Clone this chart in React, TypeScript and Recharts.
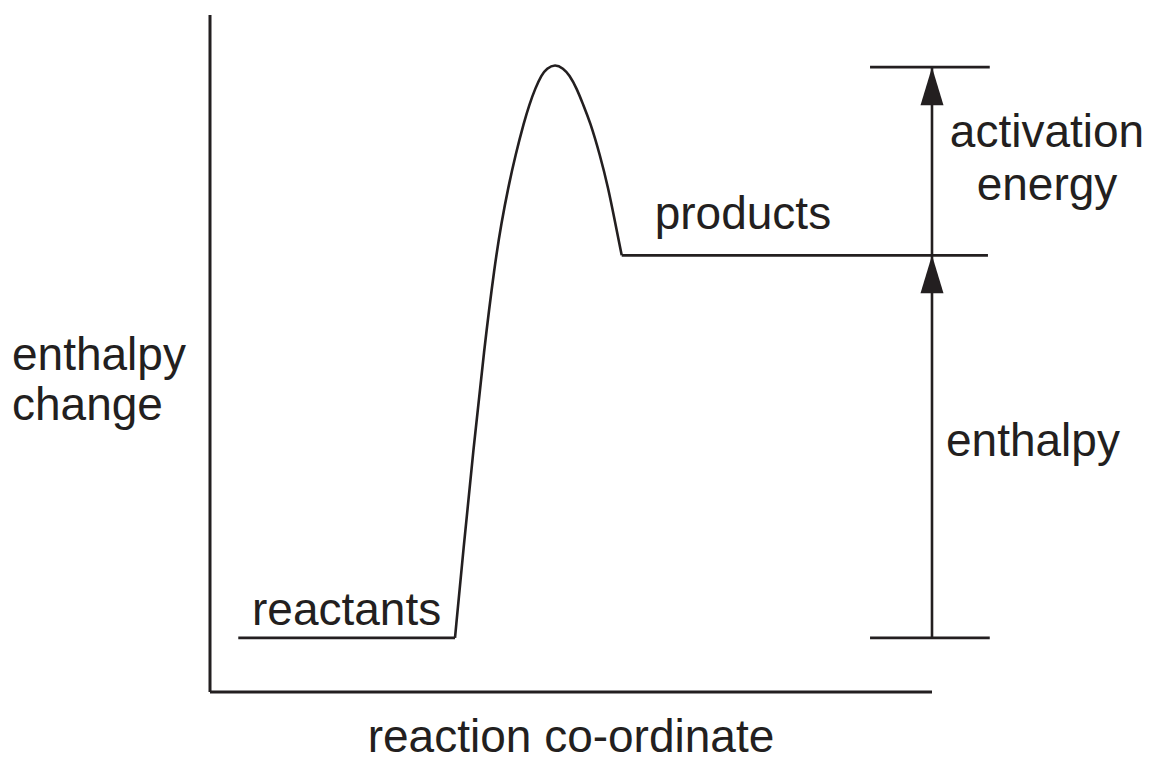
import React from "react";
import {
  ComposedChart,
  Line,
  Scatter,
  XAxis,
  YAxis,
  ReferenceLine,
} from "recharts";

// ---- data (reaction coordinate on x, enthalpy on y) ----
const curveX = [
  4.072, 4.211, 4.377, 4.555, 4.731, 4.846, 4.954, 5.077, 5.22, 5.305, 5.406, 5.509, 5.598,
  5.734,
  5.872, 5.972, 6.095, 6.204, 6.316, 6.482, 6.62, 6.731, 6.843,
];
const curveY = [
  8, 20.97, 35.75, 50.52, 63.07, 69.42, 74.4, 79.32, 84.19, 86.71, 89.17, 91.14, 92.13,
  92.75,
  92.13, 91.14, 89.17, 86.71, 84.24, 79.32, 74.4, 69.47, 64.5,
];

const reactantsLevel = 8;
const productsLevel = 64.5;
const transitionLevel = 92.3;

const reactantsX = [0.47, 4.072];
const productsX = [6.843, 12.93];
const markerX = [10.97, 12.96];
const arrowX = 12;

const xDomain = [0, 12];
const yDomain = [0, 100];

const xAxisTitle = "reaction co-ordinate";
const yAxisTitle = ["enthalpy", "change"];
const reactantsText = "reactants";
const productsText = "products";
const activationText = ["activation", "energy"];
const enthalpyText = "enthalpy";

const hump = curveX.map((x, i) => ({ x, y: curveY[i] }));
const arrowTips = [
  { x: arrowX, y: productsLevel },
  { x: arrowX, y: transitionLevel },
];

// ---- style ----
const INK = "#231f20";
const FONT = "'Liberation Sans', Arial, Helvetica, sans-serif";
const FS = 46;
const SW = 2.6;

const textStyle = { fontFamily: FONT, fontSize: FS, fill: INK };

const Arrowhead = (p: any) => {
  const { cx, cy } = p;
  return (
    <polygon
      points={`${cx},${cy} ${cx - 11.5},${cy + 38} ${cx + 11.5},${cy + 38}`}
      fill={INK}
    />
  );
};

const xAxisLabel = (props: any) => {
  const vb = props.viewBox;
  return (
    <text x={vb.x + vb.width / 2} y={vb.y + 60} textAnchor="middle" style={textStyle}>
      {xAxisTitle}
    </text>
  );
};

const yAxisLabel = (props: any) => {
  const vb = props.viewBox;
  const right = vb.x + vb.width;
  const mid = vb.y + vb.height / 2;
  return (
    <text style={textStyle} textAnchor="start">
      <tspan x={right - 198} y={mid + 16.5}>{yAxisTitle[0]}</tspan>
      <tspan x={right - 198} y={mid + 66.5}>{yAxisTitle[1]}</tspan>
    </text>
  );
};

const reactantsLabel = (props: any) => {
  const vb = props.viewBox;
  return (
    <text x={vb.x + vb.width / 2} y={vb.y - 13} textAnchor="middle" style={textStyle}>
      {reactantsText}
    </text>
  );
};

const productsLabel = (props: any) => {
  const vb = props.viewBox;
  return (
    <text x={vb.x + 33} y={vb.y - 26} textAnchor="start" style={textStyle}>
      {productsText}
    </text>
  );
};

const activationLabel = (props: any) => {
  const vb = props.viewBox;
  const cx = vb.x + 115;
  const mid = vb.y + vb.height / 2;
  return (
    <text style={textStyle} textAnchor="middle">
      <tspan x={cx} y={mid - 14}>{activationText[0]}</tspan>
      <tspan x={cx} y={mid + 39}>{activationText[1]}</tspan>
    </text>
  );
};

const enthalpyLabel = (props: any) => {
  const vb = props.viewBox;
  return (
    <text x={vb.x + 14} y={vb.y + vb.height / 2 + 9.5} textAnchor="start" style={textStyle}>
      {enthalpyText}
    </text>
  );
};

export default function App() {
  return (
    <div>
      <style>{"body{margin:0;background:#fff}"}</style>
      <ComposedChart
        width={1153}
        height={758}
        margin={{ top: 15, left: 150, right: 221, bottom: 36 }}
      >
        <XAxis
          type="number"
          dataKey="x"
          domain={xDomain}
          tick={false}
          tickLine={false}
          height={30}
          axisLine={{ stroke: INK, strokeWidth: 3 }}
          label={xAxisLabel}
        />
        <YAxis
          type="number"
          dataKey="y"
          domain={yDomain}
          tick={false}
          tickLine={false}
          width={60}
          axisLine={{ stroke: INK, strokeWidth: 3 }}
          label={yAxisLabel}
        />
        <ReferenceLine
          segment={[
            { x: reactantsX[0], y: reactantsLevel },
            { x: reactantsX[1], y: reactantsLevel },
          ]}
          stroke={INK}
          strokeWidth={SW}
          ifOverflow="visible"
          label={reactantsLabel}
        />
        <ReferenceLine
          segment={[
            { x: productsX[0], y: productsLevel },
            { x: productsX[1], y: productsLevel },
          ]}
          stroke={INK}
          strokeWidth={SW}
          ifOverflow="visible"
          label={productsLabel}
        />
        <ReferenceLine
          segment={[
            { x: markerX[0], y: transitionLevel },
            { x: markerX[1], y: transitionLevel },
          ]}
          stroke={INK}
          strokeWidth={SW}
          ifOverflow="visible"
        />
        <ReferenceLine
          segment={[
            { x: markerX[0], y: reactantsLevel },
            { x: markerX[1], y: reactantsLevel },
          ]}
          stroke={INK}
          strokeWidth={SW}
          ifOverflow="visible"
        />
        <ReferenceLine
          segment={[
            { x: arrowX, y: reactantsLevel },
            { x: arrowX, y: productsLevel },
          ]}
          stroke={INK}
          strokeWidth={SW}
          ifOverflow="visible"
          label={enthalpyLabel}
        />
        <ReferenceLine
          segment={[
            { x: arrowX, y: productsLevel },
            { x: arrowX, y: transitionLevel },
          ]}
          stroke={INK}
          strokeWidth={SW}
          ifOverflow="visible"
          label={activationLabel}
        />
        <Line
          data={hump}
          dataKey="y"
          type="basis"
          stroke={INK}
          strokeWidth={SW}
          strokeLinejoin="round"
          dot={false}
          activeDot={false}
          isAnimationActive={false}
        />
        <Scatter
          data={arrowTips}
          dataKey="y"
          shape={Arrowhead}
          isAnimationActive={false}
        />
      </ComposedChart>
    </div>
  );
}
